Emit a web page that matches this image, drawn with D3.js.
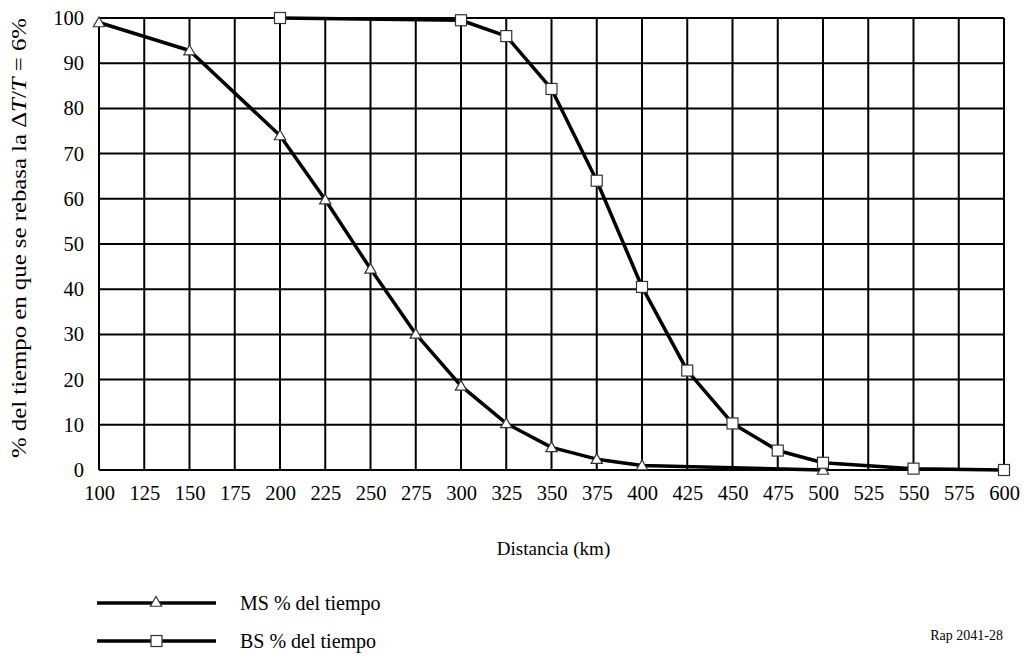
<!DOCTYPE html>
<html>
<head>
<meta charset="utf-8">
<script src="https://cdn.jsdelivr.net/npm/d3@7"></script>
<style>
  html, body { margin: 0; padding: 0; background: #fff; }
</style>
</head>
<body>
<svg id="chart" width="1026" height="655" font-family="Liberation Serif"></svg>
<script>
// Distance ticks (km) and percentage ticks
const xTicks = [100, 125, 150, 175, 200, 225, 250, 275, 300, 325, 350, 375, 400, 425, 450, 475, 500, 525, 550, 575, 600];
const yTicks = [0, 10, 20, 30, 40, 50, 60, 70, 80, 90, 100];

// MS series: distance and % of time
const msDist = [100, 150, 200, 225, 250, 275, 300, 325, 350, 375, 400, 500];
const msPct  = [99, 92.8, 74, 59.8, 44.5, 30.1, 18.6, 10.3, 5, 2.4, 1, 0];

// BS series: distance and % of time
const bsDist = [200, 300, 325, 350, 375, 400, 425, 450, 475, 500, 550, 600];
const bsPct  = [100, 99.5, 96, 84.3, 64, 40.5, 22, 10.3, 4.3, 1.6, 0.3, 0];

const svg = d3.select("#chart");
const plotL = 99, plotR = 1004, plotT = 18, plotB = 470;
const FONT = 19;
const TICK_FONT = 20.5;
const FAMILY = "Liberation Serif";

const x = d3.scaleLinear().domain([100, 600]).range([plotL, plotR]);
const y = d3.scaleLinear().domain([0, 100]).range([plotB, plotT]);

// grid
const grid = svg.append("g");
grid.selectAll("line.v").data(xTicks).enter().append("line")
  .attr("class", "v")
  .attr("x1", d => x(d)).attr("x2", d => x(d))
  .attr("y1", plotT).attr("y2", plotB)
  .attr("stroke", "#000").attr("stroke-width", 2);
grid.selectAll("line.h").data(yTicks).enter().append("line")
  .attr("class", "h")
  .attr("x1", plotL).attr("x2", plotR)
  .attr("y1", d => y(d)).attr("y2", d => y(d))
  .attr("stroke", "#000").attr("stroke-width", 2);

// axes (labels only; grid draws the lines)
const xAxis = d3.axisBottom(x).tickValues(xTicks).tickSize(0).tickPadding(15).tickFormat(d3.format("d"));
const gx = svg.append("g").attr("transform", `translate(0,${plotB})`).call(xAxis);
gx.select(".domain").remove();
gx.attr("font-size", TICK_FONT).attr("font-family", FAMILY);
gx.selectAll("text").attr("fill", "#000");

const yAxis = d3.axisLeft(y).tickValues(yTicks).tickSize(0).tickPadding(15).tickFormat(d3.format("d"));
const gy = svg.append("g").attr("transform", `translate(${plotL},0)`).call(yAxis);
gy.select(".domain").remove();
gy.attr("font-size", TICK_FONT).attr("font-family", FAMILY);
gy.selectAll("text").attr("fill", "#000");

// axis titles
svg.append("text").attr("x", (plotL + plotR) / 2 + 2).attr("y", 555)
  .attr("text-anchor", "middle").attr("font-size", FONT).attr("font-family", FAMILY)
  .text("Distancia (km)");

const yTitle = svg.append("text")
  .attr("transform", `translate(26,238) rotate(-90)`)
  .attr("text-anchor", "middle").attr("font-size", 22).attr("font-family", FAMILY)
  .attr("textLength", 440).attr("lengthAdjust", "spacingAndGlyphs");
yTitle.append("tspan").text("% del tiempo en que se rebasa la \u0394");
yTitle.append("tspan").attr("font-style", "italic").text("T");
yTitle.append("tspan").text("/");
yTitle.append("tspan").attr("font-style", "italic").text("T");
yTitle.append("tspan").text(" = 6%");

// series lines
const line = d3.line().x(d => x(d[0])).y(d => y(d[1]));
const ms = msDist.map((d, i) => [d, msPct[i]]);
const bs = bsDist.map((d, i) => [d, bsPct[i]]);

svg.append("path").datum(ms).attr("d", line)
  .attr("fill", "none").attr("stroke", "#000").attr("stroke-width", 3.5).attr("stroke-linejoin", "round");
svg.append("path").datum(bs).attr("d", line)
  .attr("fill", "none").attr("stroke", "#000").attr("stroke-width", 3.5).attr("stroke-linejoin", "round");

const tri = d3.symbol().type(d3.symbolTriangle).size(55);
svg.append("g").selectAll("path").data(ms).enter().append("path")
  .attr("d", tri)
  .attr("transform", d => `translate(${x(d[0])},${y(d[1]) + 1})`)
  .attr("fill", "#fff").attr("stroke", "#333").attr("stroke-width", 1.2);

svg.append("g").selectAll("rect").data(bs).enter().append("rect")
  .attr("x", d => x(d[0]) - 5.5).attr("y", d => y(d[1]) - 5.5)
  .attr("width", 11).attr("height", 11)
  .attr("fill", "#fff").attr("stroke", "#333").attr("stroke-width", 1.2);

// legend
const legend = [
  { label: "MS % del tiempo", marker: "tri", yy: 603 },
  { label: "BS % del tiempo", marker: "sq", yy: 641 }
];
const lg = svg.append("g");
legend.forEach(l => {
  lg.append("line").attr("x1", 97).attr("x2", 216).attr("y1", l.yy).attr("y2", l.yy)
    .attr("stroke", "#000").attr("stroke-width", 3.5);
  if (l.marker === "tri") {
    lg.append("path").attr("d", tri).attr("transform", `translate(156,${l.yy})`)
      .attr("fill", "#fff").attr("stroke", "#333").attr("stroke-width", 1.2);
  } else {
    lg.append("rect").attr("x", 151).attr("y", l.yy - 5.5).attr("width", 11).attr("height", 11)
      .attr("fill", "#fff").attr("stroke", "#333").attr("stroke-width", 1.2);
  }
  lg.append("text").attr("x", 240).attr("y", l.yy + 7).attr("font-size", 20)
    .attr("font-family", FAMILY).text(l.label);
});

svg.append("text").attr("x", 1003).attr("y", 640).attr("text-anchor", "end")
  .attr("font-size", 14).attr("font-family", FAMILY).text("Rap 2041-28");
</script>
</body>
</html>
